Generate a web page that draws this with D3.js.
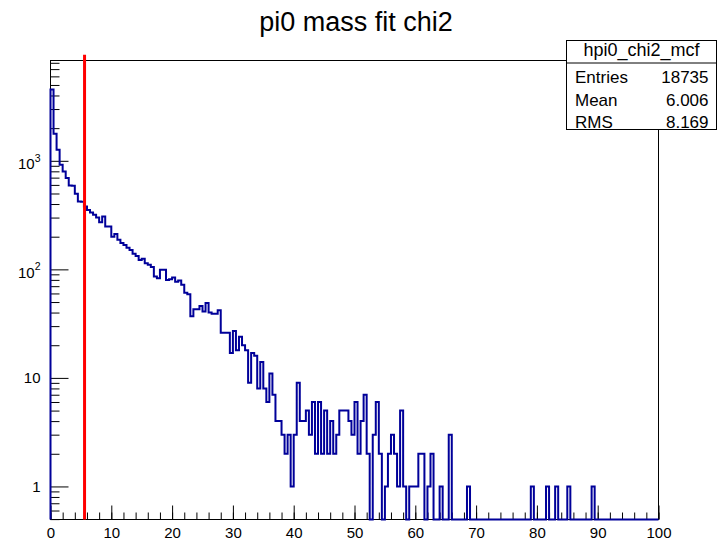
<!DOCTYPE html>
<html>
<head>
<meta charset="utf-8">
<script src="https://cdn.jsdelivr.net/npm/d3@7/dist/d3.min.js"></script>
<style>
  body { margin: 0; background: #ffffff; }
  text { font-family: "Liberation Sans", Arial, Helvetica, sans-serif; }
</style>
</head>
<body>
<div id="chart"></div>
<script>
const title = "pi0 mass fit chi2";
const histName = "hpi0_chi2_mcf";
const statLabels = ["Entries", "Mean", "RMS"];
const statValues = ["18735", "6.006", "8.169"];

const xMin = 0, xMax = 100, binWidth = 0.5;
// bin contents, 200 bins of 0.5
const counts = [
  4540, 1780, 1266, 920, 798, 694, 593, 590, 497, 422, 420, 379, 353, 335, 318, 300, 272, 307, 248, 248,
  200, 212, 187, 175, 168, 158, 151, 139, 133, 122, 125, 114, 110, 105, 86, 83, 99, 99, 80, 81,
  84, 77, 79, 72, 61, 59, 37, 43, 43, 46, 41, 49, 40, 39, 39, 42, 26, 26, 26, 17,
  27, 18, 24, 20, 18, 9, 17, 16, 8, 14, 8, 6, 11, 7, 4, 4, 3, 2, 3, 1,
  3, 9, 4, 4, 5, 3, 6, 2, 6, 2, 5, 2, 4, 2, 3, 5, 5, 5, 4, 3,
  6, 2, 4, 7, 2, 0, 3, 6, 2, 0, 1, 2, 3, 2, 1, 5, 1, 0, 1, 1,
  1, 2, 2, 0, 1, 2, 0, 0, 1, 0, 0, 3, 0, 0, 0, 0, 0, 1, 0, 0,
  0, 0, 0, 0, 0, 0, 0, 0, 0, 0, 0, 0, 0, 0, 0, 0, 0, 0, 1, 0,
  0, 0, 0, 1, 0, 0, 1, 0, 0, 0, 1, 0, 0, 0, 0, 0, 0, 0, 1, 0,
  0, 0, 0, 0, 0, 0, 0, 0, 0, 0, 0, 0, 0, 0, 0, 0, 0, 0, 0, 0
];
const cutValue = 5.6;

const xTickValues = [0, 10, 20, 30, 40, 50, 60, 70, 80, 90, 100];
const xTickLabels = ["0", "10", "20", "30", "40", "50", "60", "70", "80", "90", "100"];
const yTickValues = [1, 10, 100, 1000];
const yTickLabels = [["1", ""], ["10", ""], ["10", "2"], ["10", "3"]];
const yMinorTicks = [0.5, 0.6, 0.7, 0.8, 0.9,
  2, 3, 4, 5, 6, 7, 8, 9,
  20, 30, 40, 50, 60, 70, 80, 90,
  200, 300, 400, 500, 600, 700, 800, 900,
  2000, 3000, 4000, 5000, 6000, 7000, 8000];

const width = 719, height = 542;
const frame = {left: 50.5, right: 658.5, top: 60.5, bottom: 519.5};
const yLow = 0.496, yHigh = 8400;

const svg = d3.select("#chart")
  .append("svg")
    .attr("width", width)
    .attr("height", height)
    .style("display", "block")
    .style("background-color", "#ffffff");

const x = d3.scaleLinear()
  .domain([xMin, xMax])
  .range([frame.left, frame.right]);
const y = d3.scaleLog()
  .domain([yLow, yHigh])
  .range([frame.bottom, frame.top]);

// title
svg.append("text")
  .attr("x", 356)
  .attr("y", 31)
  .attr("text-anchor", "middle")
  .attr("font-size", "27px")
  .attr("fill", "#000")
  .text(title);

// frame
svg.append("rect")
  .attr("x", frame.left)
  .attr("y", frame.top)
  .attr("width", frame.right - frame.left)
  .attr("height", frame.bottom - frame.top)
  .attr("fill", "none")
  .attr("stroke", "#000")
  .attr("stroke-width", 1);

// x axis: ticks point up into the frame
const xAxisG = svg.append("g").attr("transform", `translate(0,${frame.bottom})`);
xAxisG.append("g")
  .call(d3.axisBottom(x).tickValues(d3.range(0, 101, 2)).tickSize(-7).tickFormat(""))
  .call(g => g.select(".domain").remove());
xAxisG.append("g")
  .call(d3.axisBottom(x).tickValues(xTickValues).tickSize(-14).tickFormat((d, i) => xTickLabels[i]))
  .call(g => g.select(".domain").remove())
  .call(g => g.selectAll("text")
    .attr("y", 18)
    .attr("dy", 0)
    .attr("font-size", "15px")
    .attr("font-family", "Liberation Sans, Arial, sans-serif")
    .attr("fill", "#000"));
xAxisG.selectAll("line").attr("stroke", "#000");

// y axis: ticks point right into the frame
const yAxisG = svg.append("g").attr("transform", `translate(${frame.left},0)`);
yAxisG.append("g")
  .call(d3.axisLeft(y).tickValues(yMinorTicks).tickSize(-9).tickFormat(""))
  .call(g => g.select(".domain").remove());
yAxisG.append("g")
  .call(d3.axisLeft(y).tickValues(yTickValues).tickSize(-18).tickFormat(""))
  .call(g => g.select(".domain").remove());
yAxisG.selectAll("line").attr("stroke", "#000");

yTickValues.forEach((v, i) => {
  const [base, exp] = yTickLabels[i];
  const t = svg.append("text")
    .attr("x", 40.5)
    .attr("y", y(v) + (exp ? 8.5 : 5.4))
    .attr("text-anchor", "end")
    .attr("font-size", "15px")
    .attr("fill", "#000")
    .text(base);
  if (exp) {
    t.append("tspan")
      .attr("dy", -7.5)
      .attr("font-size", "10.5px")
      .text(exp);
  }
});

// histogram outline, empty bins sit on the frame bottom
const pts = [[x(xMin), y(yLow)]];
counts.forEach((c, i) => {
  const yy = y(Math.max(c, yLow));
  pts.push([x(xMin + i * binWidth), yy]);
  pts.push([x(xMin + (i + 1) * binWidth), yy]);
});
pts.push([x(xMax), y(yLow)]);

svg.append("path")
  .datum(pts)
  .attr("d", d3.line())
  .attr("fill", "none")
  .attr("stroke", "#000099")
  .attr("stroke-width", 2)
  .attr("stroke-linejoin", "miter");

// cut line
svg.append("line")
  .attr("x1", x(cutValue))
  .attr("x2", x(cutValue))
  .attr("y1", y(yLow))
  .attr("y2", y(9500))
  .attr("stroke", "#ff0000")
  .attr("stroke-width", 3);

// stats box
const box = {x: 566.5, y: 40.5, w: 150, h: 89, head: 22.5};
const stats = svg.append("g");
stats.append("rect")
  .attr("x", box.x)
  .attr("y", box.y)
  .attr("width", box.w)
  .attr("height", box.h)
  .attr("fill", "#fff")
  .attr("stroke", "#000");
stats.append("line")
  .attr("x1", box.x).attr("x2", box.x + box.w)
  .attr("y1", box.y + box.head).attr("y2", box.y + box.head)
  .attr("stroke", "#000");
stats.append("text")
  .attr("x", box.x + box.w / 2)
  .attr("y", 56)
  .attr("text-anchor", "middle")
  .attr("font-size", "18px")
  .text(histName);
statLabels.forEach((lab, i) => {
  const by = 83 + i * 22.7;
  stats.append("text")
    .attr("x", 575)
    .attr("y", by)
    .attr("font-size", "17px")
    .text(lab);
  stats.append("text")
    .attr("x", 708.5)
    .attr("y", by)
    .attr("text-anchor", "end")
    .attr("font-size", "17px")
    .text(statValues[i]);
});
</script>
</body>
</html>
